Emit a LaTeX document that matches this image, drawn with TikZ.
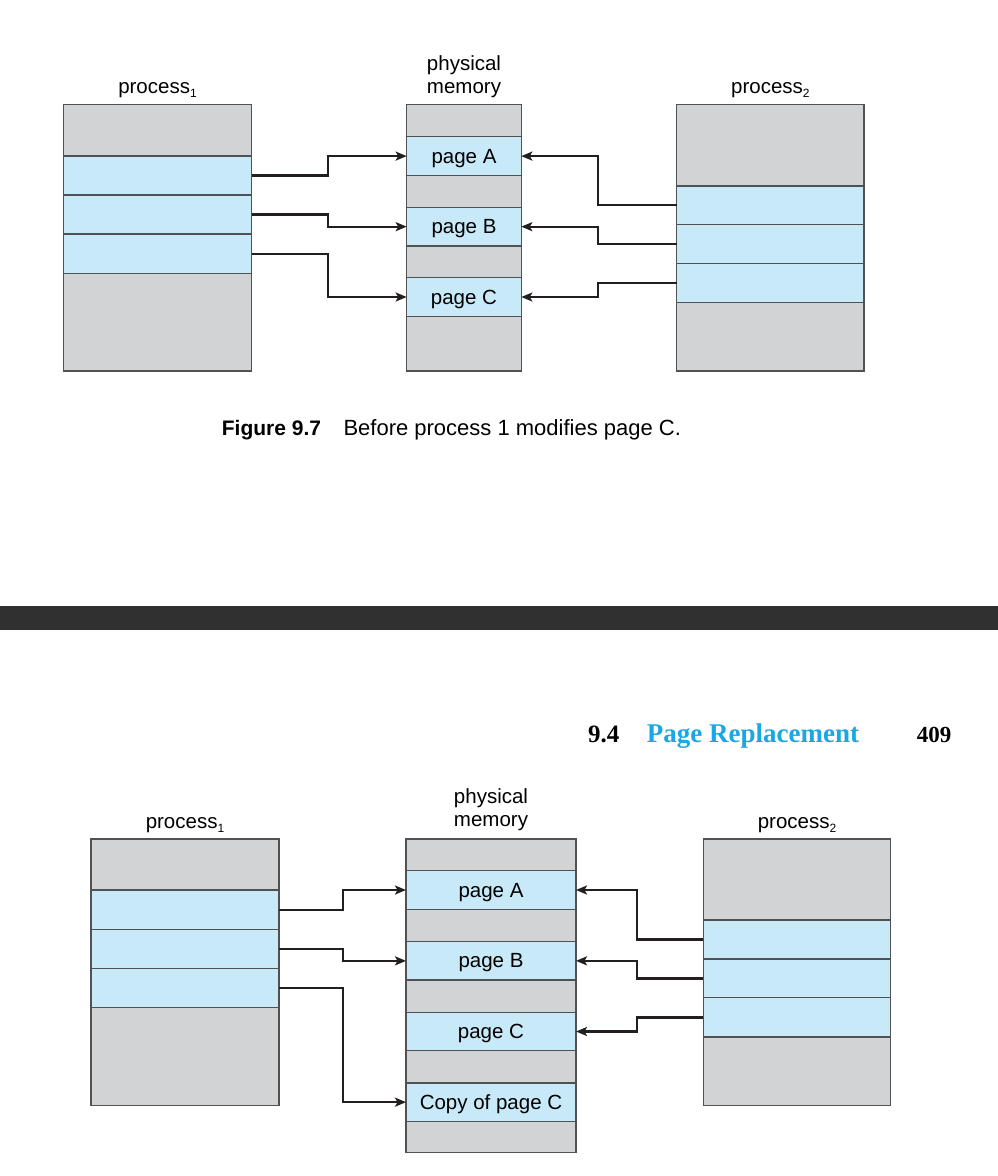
\documentclass[tikz,border=0pt]{standalone}
\usepackage{fontspec}
\setmainfont{Liberation Sans}
\newfontfamily\hdrfont{Liberation Serif}
\usetikzlibrary{arrows.meta}
\definecolor{memgray}{HTML}{D1D3D4}
\definecolor{memblue}{HTML}{C7E9F8}
\definecolor{edgegray}{HTML}{505153}
\definecolor{arrowink}{HTML}{231F20}
\definecolor{hdrblue}{HTML}{1AA7E4}
\definecolor{barink}{HTML}{303030}
\newcommand{\sub}[1]{\raisebox{-0.22em}{\fontsize{12}{12}\selectfont #1}}
\tikzset{
  cell/.style={draw=edgegray, line width=1.4pt, inner sep=0pt, outer sep=0pt},
  gcell/.style={cell, fill=memgray},
  bcell/.style={cell, fill=memblue},
  pagecell/.style={bcell, font=\fontsize{20.5}{20}\selectfont, text height=14pt, text depth=0pt},
  lbl/.style={font=\fontsize{20.5}{22}\selectfont, inner sep=0pt, anchor=base},
  conn/.style={draw=arrowink, line width=2.3pt, -{Stealth[length=11pt,width=9pt,inset=2.5pt]}},
}
\begin{document}
\begin{tikzpicture}[x=1pt,y=-1pt]
\fill[white] (0,0) rectangle (998,1176);
\useasboundingbox (0,0) rectangle (998,1176);

% ================= TOP FIGURE =================
% process 1
\node[gcell, minimum width=188.4pt, minimum height=51.7pt] (p1t) at (157.5,130.15) {};
\node[gcell, minimum width=188.4pt, minimum height=97.7pt] (p1e) at (157.5,322.15) {};
\node[bcell, minimum width=188.4pt, minimum height=39pt] (p1a) at (157.5,175.5) {};
\node[bcell, minimum width=188.4pt, minimum height=39pt] (p1b) at (157.5,214.5) {};
\node[bcell, minimum width=188.4pt, minimum height=39.3pt] (p1c) at (157.5,253.65) {};
% physical memory
\node[gcell, minimum width=114.6pt, minimum height=32.4pt] (m0) at (464,120.5) {};
\node[gcell, minimum width=114.6pt, minimum height=31.8pt] (m1) at (464,191.4) {};
\node[gcell, minimum width=114.6pt, minimum height=31.7pt] (m2) at (464,261.85) {};
\node[gcell, minimum width=114.6pt, minimum height=54.7pt] (m3) at (464,343.65) {};
\node[pagecell, minimum width=114.6pt, minimum height=38.8pt] (mA) at (464,156.1) {page A};
\node[pagecell, minimum width=114.6pt, minimum height=38.7pt] (mB) at (464,226.65) {page B};
\node[pagecell, minimum width=114.6pt, minimum height=38.6pt] (mC) at (464,297) {page C};
% process 2
\node[gcell, minimum width=187.3pt, minimum height=81.7pt] (q0) at (770.35,145.15) {};
\node[gcell, minimum width=187.3pt, minimum height=68.3pt] (q1) at (770.35,336.85) {};
\node[bcell, minimum width=187.3pt, minimum height=38.3pt] (qa) at (770.35,205.15) {};
\node[bcell, minimum width=187.3pt, minimum height=39pt] (qb) at (770.35,243.8) {};
\node[bcell, minimum width=187.3pt, minimum height=39.4pt] (qc) at (770.35,283) {};
% labels
\node[lbl] (t1) at (157.5,93.3) {process\sub{1}};
\node[lbl] (t2) at (464,70) {physical};
\node[lbl] (t3) at (464,93.3) {memory};
\node[lbl] (t4) at (770.35,93.3) {process\sub{2}};
% connectors
\draw[conn] (p1a.east) -- ++(76.6,0) |- (mA.west);
\draw[conn] (p1b.east) -- ++(76.6,0) |- (mB.west);
\draw[conn] (p1c.east) -- ++(76.6,0) |- (mC.west);
\draw[conn] (qa.west) -- ++(-79,0) |- (mA.east);
\draw[conn] (qb.west) -- ++(-79,0) |- (mB.east);
\draw[conn] (qc.west) -- ++(-79,0) |- (mC.east);
% caption
\node[lbl, anchor=base west, font=\fontsize{21}{22}\selectfont\bfseries] (capA) at (221.7,435) {Figure 9.7};
\node[lbl, anchor=base west, font=\fontsize{22}{22}\selectfont] (capB) at (343.3,435) {Before process 1 modifies page C.};

% ================= DARK BAR =================
\fill[barink] (0,605.7) rectangle (998,630);

% ================= HEADER =================
\node[lbl, anchor=base west, font=\fontsize{25}{27}\selectfont\hdrfont\bfseries] (h1) at (588,742) {9.4};
\node[lbl, anchor=base west, font=\fontsize{27}{27}\selectfont\hdrfont\bfseries, text=hdrblue] (h2) at (646.7,742) {Page Replacement};
\node[lbl, anchor=base west, font=\fontsize{23}{27}\selectfont\hdrfont\bfseries] (h3) at (916.7,742) {409};

% ================= BOTTOM FIGURE =================
% process 1
\node[gcell, minimum width=188pt, minimum height=51pt] (r0) at (185,864.5) {};
\node[gcell, minimum width=188pt, minimum height=98pt] (r1) at (185,1056.7) {};
\node[bcell, minimum width=188pt, minimum height=39.3pt] (ra) at (185,909.65) {};
\node[bcell, minimum width=188pt, minimum height=39pt] (rb) at (185,948.8) {};
\node[bcell, minimum width=188pt, minimum height=39.4pt] (rc) at (185,988) {};
% physical memory
\node[gcell, minimum width=170pt, minimum height=31.7pt] (n0) at (491,854.85) {};
\node[gcell, minimum width=170pt, minimum height=32.4pt] (n1) at (491,925.5) {};
\node[gcell, minimum width=170pt, minimum height=32.3pt] (n2) at (491,996.15) {};
\node[gcell, minimum width=170pt, minimum height=32.3pt] (n3) at (491,1066.85) {};
\node[gcell, minimum width=170pt, minimum height=31pt] (n4) at (491,1136.8) {};
\node[pagecell, minimum width=170pt, minimum height=38.6pt] (nA) at (491,890) {page A};
\node[pagecell, minimum width=170pt, minimum height=38.3pt] (nB) at (491,960.85) {page B};
\node[pagecell, minimum width=170pt, minimum height=38.4pt] (nC) at (491,1031.5) {page C};
\node[pagecell, minimum width=170pt, minimum height=38.3pt] (nD) at (491,1102.15) {Copy of page C};
% process 2
\node[gcell, minimum width=187.4pt, minimum height=81pt] (s0) at (797,879.5) {};
\node[gcell, minimum width=187.4pt, minimum height=68.7pt] (s1) at (797,1071.35) {};
\node[bcell, minimum width=187.4pt, minimum height=39pt] (sa) at (797,939.5) {};
\node[bcell, minimum width=187.4pt, minimum height=38.7pt] (sb) at (797,978.35) {};
\node[bcell, minimum width=187.4pt, minimum height=39.3pt] (sc) at (797,1017.35) {};
% labels
\node[lbl] (u1) at (185,828.3) {process\sub{1}};
\node[lbl] (u2) at (491,803.3) {physical};
\node[lbl] (u3) at (491,826.7) {memory};
\node[lbl] (u4) at (797,828.3) {process\sub{2}};
% connectors
\draw[conn] (ra.east) -- ++(64.3,0) |- (nA.west);
\draw[conn] (rb.east) -- ++(64.3,0) |- (nB.west);
\draw[conn] (rc.east) -- ++(64.3,0) |- (nD.west);
\draw[conn] (sa.west) -- ++(-66.6,0) |- (nA.east);
\draw[conn] (sb.west) -- ++(-66.6,0) |- (nB.east);
\draw[conn] (sc.west) -- ++(-66.6,0) |- (nC.east);
\end{tikzpicture}
\end{document}
